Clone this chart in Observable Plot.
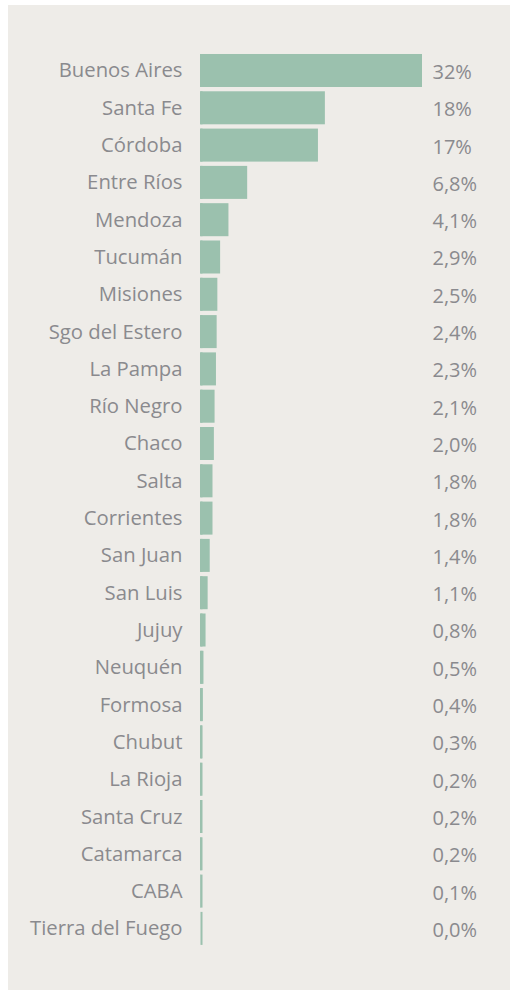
<!DOCTYPE html>
<html>
<head>
<meta charset="utf-8">
<script src="https://cdn.jsdelivr.net/npm/d3@7"></script>
<script src="https://cdn.jsdelivr.net/npm/@observablehq/plot@0.6"></script>
<style>
  html, body { margin: 0; padding: 0; background: #ffffff; }
  #wrap { width: 510px; height: 991px; position: relative; background: #ffffff; }
  #panel { position: absolute; left: 8px; top: 5px; width: 502px; height: 985px; background: #eeece8; }
  #panel svg { display: block; background: transparent; }
</style>
</head>
<body>
<div id="wrap"><div id="panel"></div></div>
<script>
const provinces = ["Buenos Aires","Santa Fe","Córdoba","Entre Ríos","Mendoza","Tucumán","Misiones","Sgo del Estero","La Pampa","Río Negro","Chaco","Salta","Corrientes","San Juan","San Luis","Jujuy","Neuquén","Formosa","Chubut","La Rioja","Santa Cruz","Catamarca","CABA","Tierra del Fuego"];
const shares = [32, 18, 17, 6.8, 4.1, 2.9, 2.5, 2.4, 2.3, 2.1, 2.0, 1.8, 1.8, 1.4, 1.1, 0.8, 0.5, 0.4, 0.3, 0.2, 0.2, 0.2, 0.1, 0.0];
const shareLabels = ["32%","18%","17%","6,8%","4,1%","2,9%","2,5%","2,4%","2,3%","2,1%","2,0%","1,8%","1,8%","1,4%","1,1%","0,8%","0,5%","0,4%","0,3%","0,2%","0,2%","0,2%","0,1%","0,0%"];

const data = provinces.map((p, i) => ({name: p, value: shares[i], label: shareLabels[i]}));
const barColor = "#9bc1ae";
const textColor = "#8a8a8e";
const font = "'Open Sans', 'Noto Sans', sans-serif";

const chart = Plot.plot({
  width: 502,
  height: 985,
  marginLeft: 192,
  marginRight: 88,
  marginTop: 44.7,
  marginBottom: 40.8,
  style: {fontFamily: font, color: textColor, background: "transparent"},
  x: {domain: [0, 32], axis: null},
  y: {domain: provinces, padding: 0.115, round: false, label: null},
  marks: [
    Plot.axisY({tickSize: 0, tickPadding: 18, fontSize: 20.3, fill: textColor}),
    Plot.barX(data, {x: "value", y: "name", fill: barColor}),
    Plot.tickX(data, {x: 0, y: "name", stroke: barColor, strokeWidth: 2, dx: 1}),
    Plot.text(data, {y: "name", text: "label", frameAnchor: "right", textAnchor: "start", dx: 10, dy: 1.5, fontSize: 20, fill: textColor})
  ]
});
document.getElementById("panel").appendChild(chart);
</script>
</body>
</html>
